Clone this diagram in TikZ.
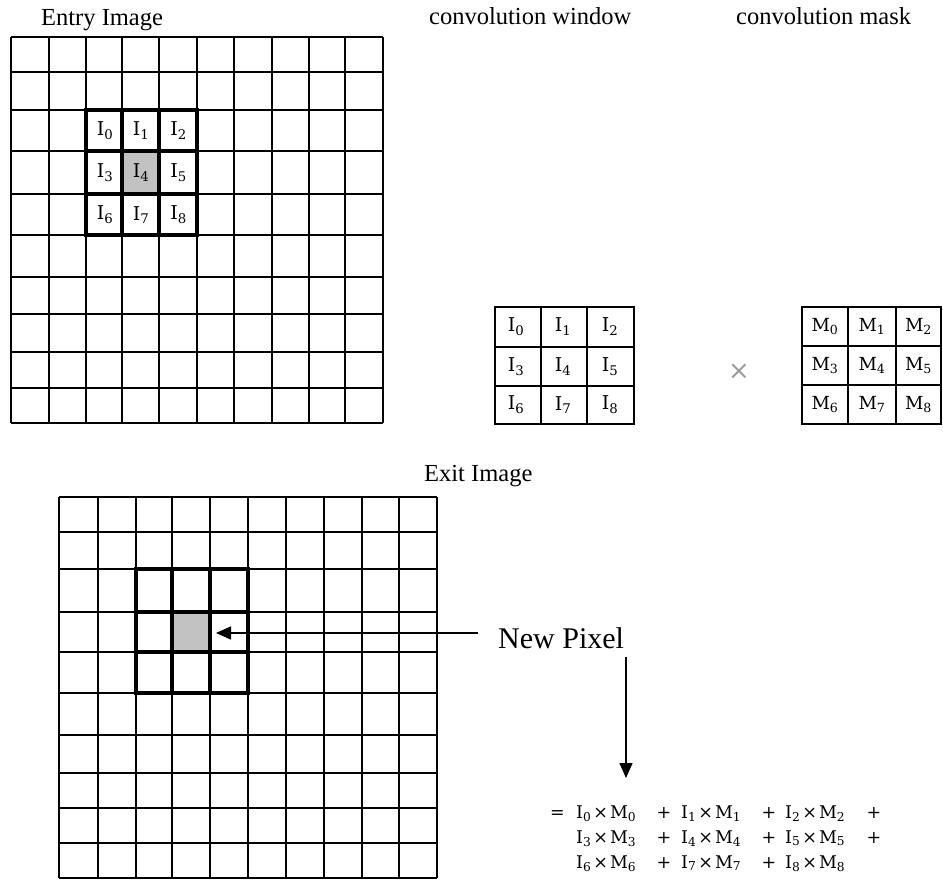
\documentclass[tikz,border=0pt]{standalone}
\usepackage{fontspec}
\setmainfont{Liberation Serif}
\newfontfamily\cellfont{DejaVu Serif}
\usetikzlibrary{arrows.meta}
\newcommand{\cl}[2]{{\cellfont #1\textsubscript{#2}}}
\newcommand{\trm}[2]{{\cellfont I\textsubscript{#1}\kern2pt×\kern2pt M\textsubscript{#2}}}
\begin{document}
\begin{tikzpicture}[x=1pt,y=-1pt,
  gridline/.style={line width=1.4pt},
  winline/.style={line width=4.6pt,line cap=rect},
  boxline/.style={line width=2.6pt,line cap=rect},
  title/.style={anchor=base west,inner sep=0pt,font=\fontsize{24.5}{29}\selectfont},
  celllab/.style={inner sep=0pt,font=\fontsize{19}{21}\selectfont},
  masklab/.style={inner sep=0pt,font=\fontsize{18}{21}\selectfont},
  formlab/.style={inner sep=0pt,font=\fontsize{17.5}{20}\selectfont},
  arr/.style={-{Triangle[length=15pt,width=13pt]},line width=1.3pt},
  cellgray/.style={fill=black!24}]
\useasboundingbox[fill=white] (0,0) rectangle (943,880);

% ---------- Entry image ----------
\fill[cellgray] (122,151) rectangle (159,194);
\foreach \x in {11,49,86,122,159,197,234,272,309,345,383}
  \draw[gridline] (\x,37) -- (\x,423);
\foreach \y in {37,72,110,151,194,235,277,314,352,388,423}
  \draw[gridline] (11,\y) -- (383,\y);
\foreach \x in {86,122,159,197}
  \draw[winline] (\x,110) -- (\x,235);
\foreach \y in {110,151,194,235}
  \draw[winline] (86,\y) -- (197,\y);
\foreach \i/\x/\y in {0/105/131,1/141/131,2/178.5/131,
                      3/105/173,4/141/173,5/178.5/173,
                      6/105/215,7/141/215,8/178.5/215}
  \node[celllab] (e\i) at (\x,\y) {\cl{I}{\i}};

% ---------- Titles ----------
\node[title] (tentry) at (41,26) {Entry Image};
\node[title] (tcw) at (429,25) {convolution window};
\node[title] (tcm) at (736,25) {convolution mask};
\node[title] (texit) at (424,481) {Exit Image};

% ---------- Convolution window ----------
\foreach \x in {495,541,587,634}
  \draw[boxline] (\x,307) -- (\x,424);
\foreach \y in {307,347,386,424}
  \draw[boxline] (495,\y) -- (634,\y);
\foreach \i/\x/\y in {0/516/327,1/563/327,2/610/327,
                      3/516/366.5,4/563/366.5,5/610/366.5,
                      6/516/405,7/563/405,8/610/405}
  \node[celllab] (w\i) at (\x,\y) {\cl{I}{\i}};

% ---------- times sign ----------
\node[text=black!40,inner sep=0pt,font=\fontsize{26}{26}\selectfont] (times) at (739,372) {\cellfont ×};

% ---------- Convolution mask ----------
\foreach \x in {802,848,896,941}
  \draw[boxline] (\x,307) -- (\x,424);
\foreach \y in {307,346,385,424}
  \draw[boxline] (802,\y) -- (941,\y);
\foreach \i/\x/\y in {0/825/326.5,1/872/326.5,2/918.5/326.5,
                      3/825/365.5,4/872/365.5,5/918.5/365.5,
                      6/825/404.5,7/872/404.5,8/918.5/404.5}
  \node[masklab] (m\i) at (\x,\y) {\cl{M}{\i}};

% ---------- Exit image ----------
\fill[cellgray] (172,612) rectangle (210,652);
\foreach \x in {59,98,136,172,210,248,286,324,362,399,437}
  \draw[gridline] (\x,497) -- (\x,878);
\foreach \y in {497,532,569,612,652,693,735,773,808,843,878}
  \draw[gridline] (59,\y) -- (437,\y);
\foreach \x in {136,172,210,248}
  \draw[winline] (\x,569) -- (\x,693);
\foreach \y in {569,612,652,693}
  \draw[winline] (136,\y) -- (248,\y);

% ---------- New pixel and arrows ----------
\node[anchor=base west,inner sep=0pt,font=\fontsize{30}{36}\selectfont] (newpix) at (498,648) {New Pixel};
\coordinate (hstart) at (478,633);
\coordinate (htip) at (216,633);
\draw[arr] (hstart) -- (htip);
\coordinate (vstart) at (626,657);
\coordinate (vtip) at (626,778);
\draw[arr] (vstart) -- (vtip);

% ---------- Formula ----------
\node[formlab,anchor=base west] (eq) at (550,818) {\cellfont =};
\foreach \r/\yb/\a/\b/\c in {1/818/0/1/2, 2/843/3/4/5, 3/868/6/7/8}{
  \node[formlab,anchor=base west] (f\r a) at (576,\yb) {\trm{\a}{\a}};
  \node[formlab,anchor=base] (p\r a) at (664,\yb) {\cellfont +};
  \node[formlab,anchor=base west] (f\r b) at (681,\yb) {\trm{\b}{\b}};
  \node[formlab,anchor=base] (p\r b) at (769,\yb) {\cellfont +};
  \node[formlab,anchor=base west] (f\r c) at (785,\yb) {\trm{\c}{\c}};
}
\node[formlab,anchor=base] (p1c) at (874,818) {\cellfont +};
\node[formlab,anchor=base] (p2c) at (874,843) {\cellfont +};
\end{tikzpicture}
\end{document}
